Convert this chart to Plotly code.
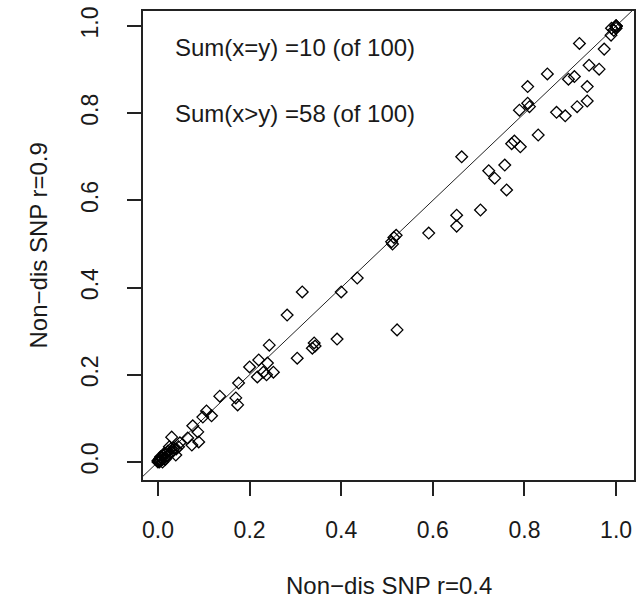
import plotly.graph_objects as go

# Non-dis SNP r=0.4 (x) vs r=0.9 (y)
x_r04 = [0.920, 0.989, 0.974, 0.941, 0.963, 0.909, 0.896, 0.850, 0.807, 0.937,
         0.807, 0.789, 0.811, 0.870, 0.889, 0.915, 0.937, 0.830, 0.778, 0.791,
         0.772, 0.663, 0.722, 0.757, 0.735, 0.761, 0.704, 0.652, 0.652, 0.591,
         0.510, 0.515, 0.520, 0.512, 0.435, 0.400, 0.315, 0.282, 0.522, 0.391,
         0.341, 0.337, 0.343, 0.304, 0.243, 0.220, 0.239, 0.200, 0.230, 0.252,
         0.217, 0.237, 0.176, 0.135, 0.170, 0.174, 0.106, 0.117, 0.098, 0.076,
         0.087, 0.065, 0.089, 0.074, 0.030, 0.048, 0.039,
         1.000, 1.000, 1.000, 1.000, 1.000, 0.995, 0.990, 1.000,
         0.000, 0.002, 0.005, 0.008, 0.010, 0.012, 0.015, 0.018, 0.020, 0.022,
         0.025, 0.028, 0.030, 0.033, 0.035, 0.004, 0.006, 0.014, 0.003, 0.000,
         0.010, 0.016, 0.040, 0.045, 0.025]
y_r09 = [0.960, 0.979, 0.947, 0.910, 0.901, 0.884, 0.878, 0.890, 0.861, 0.861,
         0.823, 0.807, 0.815, 0.802, 0.794, 0.815, 0.828, 0.750, 0.736, 0.723,
         0.730, 0.700, 0.668, 0.681, 0.651, 0.624, 0.578, 0.566, 0.541, 0.525,
         0.505, 0.515, 0.520, 0.500, 0.422, 0.390, 0.390, 0.337, 0.303, 0.282,
         0.273, 0.261, 0.266, 0.238, 0.268, 0.234, 0.227, 0.218, 0.206, 0.206,
         0.195, 0.200, 0.181, 0.151, 0.147, 0.131, 0.117, 0.106, 0.103, 0.083,
         0.069, 0.055, 0.046, 0.039, 0.057, 0.044, 0.016,
         1.000, 1.000, 1.000, 1.000, 1.000, 0.990, 0.995, 0.995,
         0.000, 0.004, 0.003, 0.010, 0.006, 0.015, 0.010, 0.020, 0.014, 0.025,
         0.018, 0.030, 0.022, 0.028, 0.032, 0.008, 0.012, 0.020, 0.000, 0.003,
         0.000, 0.006, 0.030, 0.035, 0.035]

identity_line = [-0.1, 1.1]
tick_vals = [0.0, 0.2, 0.4, 0.6, 0.8, 1.0]
tick_text = ["0.0", "0.2", "0.4", "0.6", "0.8", "1.0"]
summary_labels = ["Sum(x=y) =10 (of 100)", "Sum(x>y) =58 (of 100)"]
summary_y = [0.95, 0.80]
summary_x = 0.30

FONT = "Liberation Sans, Arial, sans-serif"
FS_TICK = 23
FS_TEXT = 24
TXT = "#1a1a1a"

fig = go.Figure()
fig.add_trace(go.Scatter(x=identity_line, y=identity_line, mode="lines",
                         line=dict(color="#222", width=1), hoverinfo="skip",
                         showlegend=False))
fig.add_trace(go.Scatter(x=x_r04, y=y_r09, mode="markers",
                         marker=dict(symbol="diamond-open", size=9,
                                     color="black", line=dict(width=1.3, color="black")),
                         showlegend=False))

axis_common = dict(
    showline=True, mirror=True, linecolor="#222", linewidth=1.6,
    ticks="outside", ticklen=14, tickwidth=1.6, tickcolor="#222",
    tickvals=tick_vals, ticktext=tick_text, showgrid=False, zeroline=False,
    tickfont=dict(family=FONT, size=FS_TICK, color=TXT),
)

fig.update_layout(
    width=637, height=600,
    margin=dict(l=143, r=1, t=11, b=120),
    paper_bgcolor="white", plot_bgcolor="white",
    xaxis=dict(range=[-0.0326, 1.0391], ticklabelstandoff=15, **axis_common),
    yaxis=dict(range=[-0.0413, 1.0344], tickangle=-90, ticklabelstandoff=20, **axis_common),
    showlegend=False,
)

for lab, yy in zip(summary_labels, summary_y):
    fig.add_annotation(x=summary_x, y=yy, xref="x", yref="y", text=lab,
                       showarrow=False, xanchor="center", yanchor="middle",
                       font=dict(family=FONT, size=FS_TEXT, color=TXT))

fig.add_annotation(x=0.5, y=0, xref="paper", yref="paper", yshift=-105,
                   text="Non\u2212dis SNP r=0.4", showarrow=False,
                   xanchor="center", yanchor="middle",
                   font=dict(family=FONT, size=FS_TEXT, color=TXT))
fig.add_annotation(x=0, y=0.5, xref="paper", yref="paper", xshift=-105,
                   text="Non\u2212dis SNP r=0.9", showarrow=False, textangle=-90,
                   xanchor="center", yanchor="middle",
                   font=dict(family=FONT, size=FS_TEXT, color=TXT))

fig.write_html("out.html", config={"displayModeBar": False},
               post_script="document.body.style.margin='0px';")
